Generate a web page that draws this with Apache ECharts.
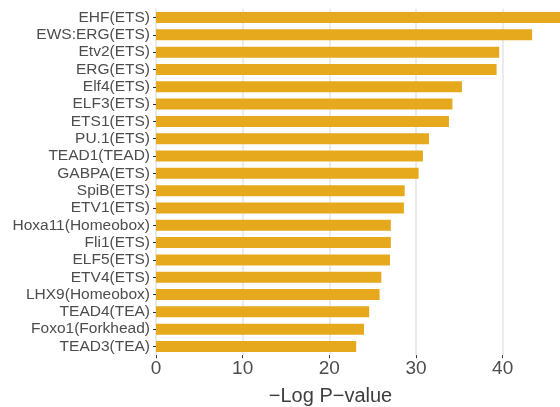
<!DOCTYPE html>
<html>
<head>
<meta charset="utf-8">
<script src="https://cdn.jsdelivr.net/npm/echarts@6/dist/echarts.min.js"></script>
<style>
  html, body { margin: 0; padding: 0; background: #ffffff; }
  #chart { width: 560px; height: 407px; }
</style>
</head>
<body>
<div id="chart"></div>
<script>
// Motif names, top to bottom
const motifs = [
  'EHF(ETS)', 'EWS:ERG(ETS)', 'Etv2(ETS)', 'ERG(ETS)', 'Elf4(ETS)',
  'ELF3(ETS)', 'ETS1(ETS)', 'PU.1(ETS)', 'TEAD1(TEAD)', 'GABPA(ETS)',
  'SpiB(ETS)', 'ETV1(ETS)', 'Hoxa11(Homeobox)', 'Fli1(ETS)', 'ELF5(ETS)',
  'ETV4(ETS)', 'LHX9(Homeobox)', 'TEAD4(TEA)', 'Foxo1(Forkhead)', 'TEAD3(TEA)'
];
// -log10 p-values per motif
const negLogP = [
  47.3, 43.4, 39.6, 39.3, 35.3,
  34.2, 33.8, 31.5, 30.8, 30.3,
  28.7, 28.6, 27.1, 27.1, 27.0,
  26.0, 25.8, 24.6, 24.0, 23.1
];
// x-axis ticks
const xTicks = [0, 10, 20, 30, 40, 50];
const xTitle = '\u2212Log P\u2212value';

const FONT = "'Liberation Sans', Arial, Helvetica, sans-serif";
const chart = echarts.init(document.getElementById('chart'), null, { renderer: 'canvas' });

chart.setOption({
  backgroundColor: '#ffffff',
  animation: false,
  grid: {
    left: 156, top: 8.84, right: -29.33, bottom: 51.84,
    containLabel: false,
    outerBoundsMode: 'none'
  },
  xAxis: {
    type: 'value',
    min: xTicks[0],
    max: xTicks[xTicks.length - 1],
    interval: xTicks[1] - xTicks[0],
    axisLine: { show: false },
    axisTick: { show: true, length: 3, lineStyle: { color: '#333333', width: 1 } },
    axisLabel: { margin: 4, fontSize: 19, color: '#4d4d4d', fontFamily: FONT },
    splitLine: { show: true, lineStyle: { color: '#ebebeb', width: 2 } }
  },
  yAxis: {
    type: 'category',
    data: motifs,
    inverse: true,
    axisLine: { show: false },
    axisTick: { show: true, alignWithLabel: true, interval: 0, length: 3, lineStyle: { color: '#333333', width: 1 } },
    axisLabel: { interval: 0, margin: 6, fontSize: 15.5, color: '#4d4d4d', fontFamily: FONT },
    splitLine: { show: false }
  },
  series: [{
    type: 'bar',
    data: negLogP,
    barWidth: 11,
    itemStyle: { color: '#e6a91e' }
  }],
  graphic: [{
    type: 'text',
    x: 330.5,
    y: 396.5,
    style: {
      text: xTitle,
      fill: '#3d3d3d',
      font: '20px ' + FONT,
      textAlign: 'center',
      textVerticalAlign: 'middle'
    }
  }]
});
</script>
</body>
</html>
